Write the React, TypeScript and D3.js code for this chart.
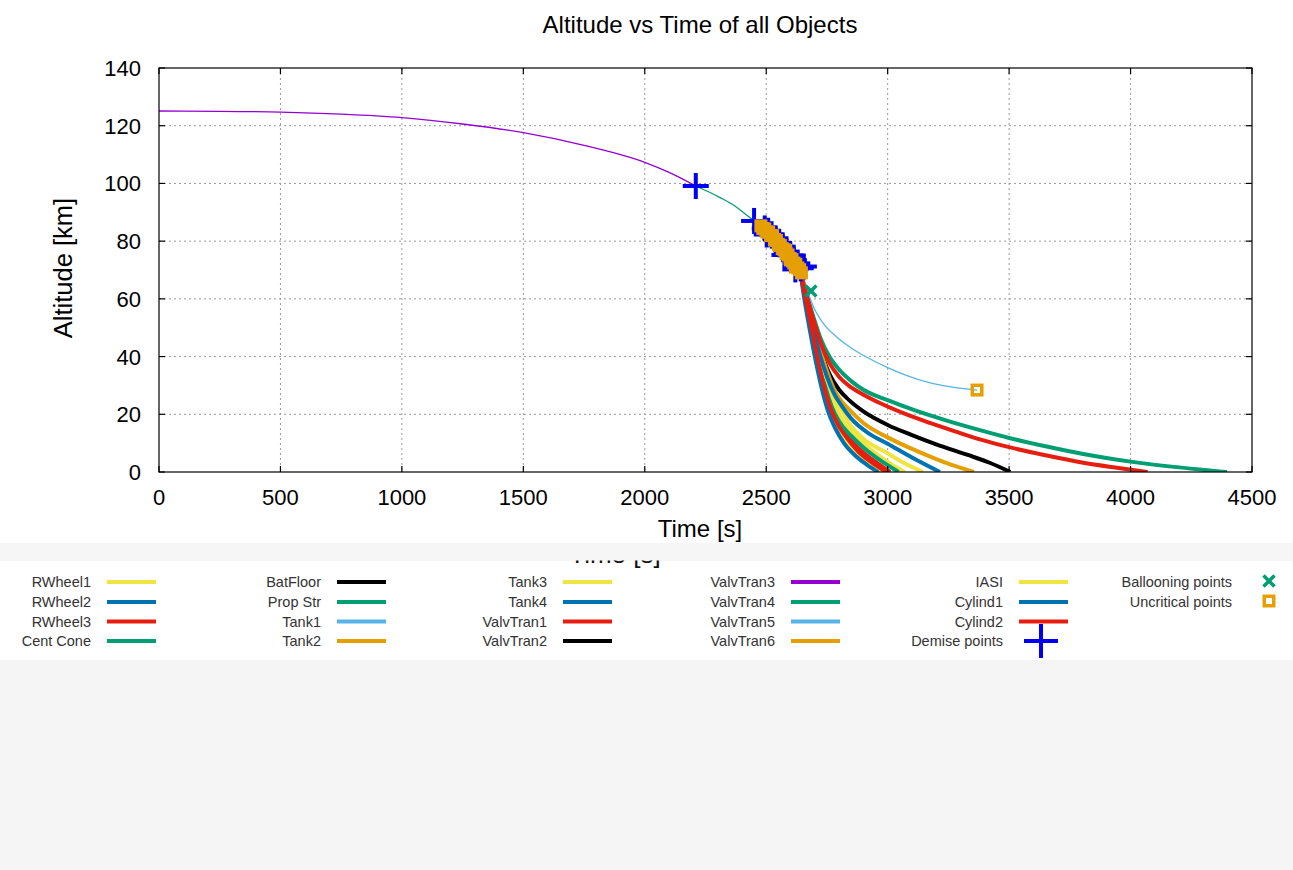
import React from 'react';
import * as d3 from 'd3';

// ---------- data ----------
const xTicks = [0, 500, 1000, 1500, 2000, 2500, 3000, 3500, 4000, 4500];
const yTicks = [0, 20, 40, 60, 80, 100, 120, 140];

const chartTitle = 'Altitude vs Time of all Objects';
const xLabel = 'Time [s]';
const yLabel = 'Altitude [km]';

// main body before fragmentation (ValvTran3) and its continuation (ValvTran4)
const valvTran3T = [0, 250, 500, 750, 1000, 1250, 1500, 1750, 2000, 2100, 2210];
const valvTran3A = [125.1, 125.0, 124.7, 124.0, 122.8, 120.6, 117.6, 113.2, 107.3, 103.8, 99.1];
const valvTran4T = [2210, 2260, 2310, 2360, 2410, 2450, 2500, 2550, 2600, 2640];
const valvTran4A = [99.1, 97.2, 95.1, 92.8, 89.7, 87.0, 83.7, 79.3, 74.6, 69.5];

const rWheel1T = [2640, 2660, 2690, 2720, 2750, 2780, 2820, 2880, 2950, 3010, 3070];
const rWheel1A = [69.5, 61, 50, 39, 30, 23.5, 17, 11.5, 6.5, 3, 0];
const rWheel2T = [2640, 2660, 2690, 2715, 2740, 2765, 2795, 2835, 2880, 2930, 2975];
const rWheel2A = [69.5, 60.5, 48, 37, 28, 21, 15.5, 10.5, 6, 2.5, 0];
const rWheel3T = [2640, 2660, 2690, 2720, 2745, 2770, 2800, 2840, 2890, 2950, 3010];
const rWheel3A = [69.5, 61, 49, 37, 28.5, 22, 17, 12, 7.5, 3.5, 0];
const centConeT = [2640, 2660, 2690, 2720, 2745, 2770, 2800, 2850, 2900, 2970, 3045];
const centConeA = [69.5, 61, 49, 37.5, 29, 22.5, 17.5, 12.5, 8.5, 4, 0];
const batFloorT = [2640, 2665, 2695, 2725, 2760, 2800, 2840, 2900, 3000, 3100, 3200, 3330, 3420, 3505];
const batFloorA = [69.5, 61, 51, 42, 34, 28.5, 25, 21, 16.3, 12.8, 9.6, 5.9, 3.2, 0];
const propStrT = [2640, 2665, 2695, 2725, 2760, 2800, 2850, 2898, 3000, 3104, 3240, 3380, 3500, 3650, 3800, 4000, 4200, 4397];
const propStrA = [69.5, 62, 53.5, 46, 40, 35.5, 31.5, 28.6, 24.9, 21.6, 17.9, 14.5, 11.8, 8.9, 6.3, 3.6, 1.6, 0];
const tank1T = [2645, 2665, 2693, 2734, 2790, 2850, 2920, 3000, 3080, 3160, 3260, 3368];
const tank1A = [69.5, 64, 57.5, 51.6, 46.8, 43, 39.5, 36.2, 33.4, 31.2, 29.5, 28.4];
const tank2T = [2640, 2660, 2690, 2720, 2750, 2780, 2810, 2840, 2900, 3000, 3100, 3200, 3280, 3355];
const tank2A = [69.5, 62, 52, 43, 35, 28.5, 24.5, 21.8, 17, 12, 8, 4.5, 2, 0];
const tank3T = [2640, 2660, 2690, 2720, 2750, 2780, 2810, 2840, 2900, 3000, 3070, 3145];
const tank3A = [69.5, 61, 50, 40, 32, 26, 21.5, 17, 11.5, 6.5, 3, 0];
const tank4T = [2640, 2660, 2690, 2720, 2750, 2780, 2810, 2850, 2920, 3000, 3100, 3215];
const tank4A = [69.5, 61.5, 51, 41, 33, 27, 23, 18.5, 13.5, 9.8, 5, 0];
const valvTran1T = [2640, 2665, 2695, 2725, 2760, 2800, 2850, 2900, 2968, 3070, 3174, 3280, 3380, 3500, 3650, 3800, 3950, 4070];
const valvTran1A = [69.5, 61.5, 52.5, 44.5, 37.8, 33, 29.3, 26.8, 23.9, 20.2, 17, 14, 11.3, 8.6, 5.8, 3.3, 1.4, 0];
const valvTran2T = [2450, 2500, 2550];
const valvTran2A = [87, 83.6, 79.1];
const valvTran5T = [2500, 2560, 2610];
const valvTran5A = [83.6, 78.2, 73.0];
const valvTran6T = [2480, 2520, 2570, 2620];
const valvTran6A = [85.1, 82.0, 77.1, 72.0];
const iasiT = [2640, 2658, 2685, 2712, 2738, 2762, 2792, 2830, 2875, 2930, 2985];
const iasiA = [69.5, 61, 49, 38, 29, 22, 16, 11, 6.5, 2.8, 0];
const cylind1T = [2640, 2655, 2680, 2705, 2730, 2755, 2785, 2820, 2865, 2915, 2960];
const cylind1A = [69.5, 61, 49, 38, 28.5, 21, 15, 10, 5.8, 2.5, 0];
const cylind2T = [2640, 2660, 2690, 2715, 2740, 2765, 2795, 2835, 2880, 2940, 2995];
const cylind2A = [69.5, 61, 48.5, 38, 29, 22, 16.5, 11.5, 7, 3, 0];

const objectNames = [
  'RWheel1', 'RWheel2', 'RWheel3', 'Cent Cone',
  'BatFloor', 'Prop Str', 'Tank1', 'Tank2',
  'Tank3', 'Tank4', 'ValvTran1', 'ValvTran2',
  'ValvTran3', 'ValvTran4', 'ValvTran5', 'ValvTran6',
  'IASI', 'Cylind1', 'Cylind2',
];
const objectTimes = [
  rWheel1T, rWheel2T, rWheel3T, centConeT, batFloorT, propStrT, tank1T, tank2T,
  tank3T, tank4T, valvTran1T, valvTran2T, valvTran3T, valvTran4T, valvTran5T, valvTran6T,
  iasiT, cylind1T, cylind2T,
];
const objectAlts = [
  rWheel1A, rWheel2A, rWheel3A, centConeA, batFloorA, propStrA, tank1A, tank2A,
  tank3A, tank4A, valvTran1A, valvTran2A, valvTran3A, valvTran4A, valvTran5A, valvTran6A,
  iasiA, cylind1A, cylind2A,
];

// demise points
const demiseT = [2210, 2450, 2494, 2508, 2522, 2538, 2553, 2568, 2584, 2599, 2614, 2628, 2642, 2655, 2502, 2575, 2620];
const demiseA = [99.1, 87.0, 84.4, 83.6, 82.4, 81.0, 79.4, 78.1, 76.4, 75.1, 73.4, 72.3, 70.6, 71.2, 82.3, 75.2, 70.2];
// ballooning points
const balloonT = [2684];
const balloonA = [62.7];
// uncritical points
const uncritT = [2478, 2486, 2494, 2502, 2510, 2518, 2526, 2534, 2542, 2550, 2558, 2566, 2574, 2582, 2590, 2598, 2606, 2614, 2622, 2630, 2638, 2645, 2580, 2600, 2620, 3368];
const uncritA = [85.3, 84.4, 84.2, 83.2, 83.1, 82.0, 81.9, 80.6, 80.2, 78.9, 78.5, 77.4, 77.0, 75.7, 75.2, 74.0, 73.6, 72.4, 72.0, 70.7, 70.1, 69.0, 76.8, 73.5, 71.0, 28.4];

// ---------- styles ----------
const palette: Record<string, string> = {
  purple: '#9400d3', green: '#009e73', lightblue: '#56b4e9', orange: '#e69f00',
  yellow: '#f0e442', blue: '#0072b2', red: '#e51e10', black: '#000000',
};
const seriesColorKeys = ['yellow', 'blue', 'red', 'green', 'black', 'green', 'lightblue', 'orange',
  'yellow', 'blue', 'red', 'black', 'purple', 'green', 'lightblue', 'orange',
  'yellow', 'blue', 'red'];
const colorOf = (i: number) => palette[seriesColorKeys[i]];
const thinSeries = new Set([6, 12, 13]);

const W = 1293, H = 870;
const PL = 159, PR = 1252, PT = 68, PB = 472;
const axisFont = '"Liberation Sans", Arial, Helvetica, sans-serif';
const demiseColor = '#0000f0';

export default function App() {
  const x = d3.scaleLinear().domain([0, 4500]).range([PL, PR]);
  const y = d3.scaleLinear().domain([0, 140]).range([PB, PT]);
  const line = d3.line<[number, number]>()
    .x(d => x(d[0])).y(d => y(d[1]))
    .curve(d3.curveMonotoneX);

  const plus = (cx: number, cy: number, h: number, key: string, sw = 4) => (
    <g key={key}>
      <line x1={cx - h} x2={cx + h} y1={cy} y2={cy} stroke={demiseColor} strokeWidth={sw} />
      <line x1={cx} x2={cx} y1={cy - h} y2={cy + h} stroke={demiseColor} strokeWidth={sw} />
    </g>
  );
  const cross = (cx: number, cy: number, h: number, key: string) => (
    <g key={key}>
      <line x1={cx - h} x2={cx + h} y1={cy - h} y2={cy + h} stroke={palette.green} strokeWidth={3.5} />
      <line x1={cx - h} x2={cx + h} y1={cy + h} y2={cy - h} stroke={palette.green} strokeWidth={3.5} />
    </g>
  );
  const square = (cx: number, cy: number, s: number, key: string) => (
    <rect key={key} x={cx - s / 2} y={cy - s / 2} width={s} height={s}
      fill="none" stroke={palette.orange} strokeWidth={3.5} />
  );

  const legendColsX = [91, 321, 547, 775, 1003];
  const legendRowsY = [582, 602, 621.5, 641];
  const legendFont = 14.5;

  return (
    <svg width={W} height={H} style={{ position: 'absolute', left: 0, top: 0 }}
      xmlns="http://www.w3.org/2000/svg">
      <defs>
        <clipPath id="plotClip">
          <rect x={PL} y={PT} width={PR - PL} height={PB - PT} />
        </clipPath>
        <clipPath id="ghostClip">
          <rect x={0} y={560.5} width={W} height={14} />
        </clipPath>
      </defs>
      {/* backgrounds */}
      <rect x={0} y={0} width={W} height={H} fill="#f5f5f5" />
      <rect x={0} y={0} width={W} height={543} fill="#ffffff" />
      <rect x={0} y={543} width={W} height={18} fill="#f6f6f6" />
      <rect x={0} y={561} width={W} height={99} fill="#ffffff" />

      {/* ghost label clipped */}
      <text x={615} y={563} textAnchor="middle" fontFamily={axisFont} fontSize={26}
        fill="#111" clipPath="url(#ghostClip)">{xLabel}</text>

      {/* title */}
      <text x={700} y={33} textAnchor="middle" fontFamily={axisFont} fontSize={24} fill="#000">{chartTitle}</text>

      {/* grid */}
      {xTicks.slice(1, -1).map(t => (
        <line key={'gx' + t} x1={x(t)} x2={x(t)} y1={PT} y2={PB} stroke="#9a9a9a"
          strokeWidth={1} strokeDasharray="2,3" />
      ))}
      {yTicks.slice(1, -1).map(t => (
        <line key={'gy' + t} x1={PL} x2={PR} y1={y(t)} y2={y(t)} stroke="#9a9a9a"
          strokeWidth={1} strokeDasharray="2,3" />
      ))}

      {/* series */}
      <g clipPath="url(#plotClip)">
        {objectNames.map((n, i) => {
          const pts = objectTimes[i].map((t, k) => [t, objectAlts[i][k]] as [number, number]);
          return (
            <path key={'s' + n} d={line(pts) || ''} fill="none" stroke={colorOf(i)}
              strokeWidth={thinSeries.has(i) ? 1.3 : 4} strokeLinejoin="round" />
          );
        })}
        {demiseT.map((t, i) => plus(x(t), y(demiseA[i]), 13, 'd' + i))}
        {balloonT.map((t, i) => cross(x(t), y(balloonA[i]), 5.5, 'b' + i))}
        {uncritT.map((t, i) => square(x(t), y(uncritA[i]), 9.5, 'u' + i))}
      </g>

      {/* frame and ticks */}
      <rect x={PL} y={PT} width={PR - PL} height={PB - PT} fill="none" stroke="#000" strokeWidth={1.2} />
      {xTicks.map(t => (
        <g key={'tx' + t}>
          <line x1={x(t)} x2={x(t)} y1={PB} y2={PB - 6} stroke="#000" strokeWidth={1.2} />
          <line x1={x(t)} x2={x(t)} y1={PT} y2={PT + 6} stroke="#000" strokeWidth={1.2} />
          <text x={x(t)} y={PB + 33} textAnchor="middle" fontFamily={axisFont} fontSize={22} fill="#000">{t}</text>
        </g>
      ))}
      {yTicks.map(t => (
        <g key={'ty' + t}>
          <line x1={PL} x2={PL + 6} y1={y(t)} y2={y(t)} stroke="#000" strokeWidth={1.2} />
          <line x1={PR} x2={PR - 6} y1={y(t)} y2={y(t)} stroke="#000" strokeWidth={1.2} />
          <text x={141} y={y(t) + 8} textAnchor="end" fontFamily={axisFont} fontSize={22} fill="#000">{t}</text>
        </g>
      ))}

      {/* axis labels */}
      <text x={700} y={537} textAnchor="middle" fontFamily={axisFont} fontSize={24} fill="#000">{xLabel}</text>
      <text transform={`translate(72,268) rotate(-90)`} textAnchor="middle" fontFamily={axisFont}
        fontSize={25.5} fill="#000">{yLabel}</text>

      {/* legend */}
      {objectNames.map((n, i) => {
        const col = Math.floor(i / 4), row = i % 4;
        const tx = legendColsX[col], ty = legendRowsY[row];
        return (
          <g key={'l' + n}>
            <text x={tx} y={ty + 5} textAnchor="end" fontFamily={axisFont} fontSize={legendFont}
              fill="#333">{n}</text>
            <line x1={tx + 16} x2={tx + 65} y1={ty} y2={ty} stroke={colorOf(i)} strokeWidth={4} />
          </g>
        );
      })}
      <text x={1003} y={641 + 5} textAnchor="end" fontFamily={axisFont} fontSize={legendFont} fill="#333">Demise points</text>
      {plus(1041, 641, 17, 'legplus', 4)}
      <text x={1232} y={582 + 5} textAnchor="end" fontFamily={axisFont} fontSize={legendFont} fill="#333">Ballooning points</text>
      {cross(1269, 581, 5.5, 'legx')}
      <text x={1232} y={602 + 5} textAnchor="end" fontFamily={axisFont} fontSize={legendFont} fill="#333">Uncritical points</text>
      {square(1269, 601, 9.5, 'legsq')}
    </svg>
  );
}
